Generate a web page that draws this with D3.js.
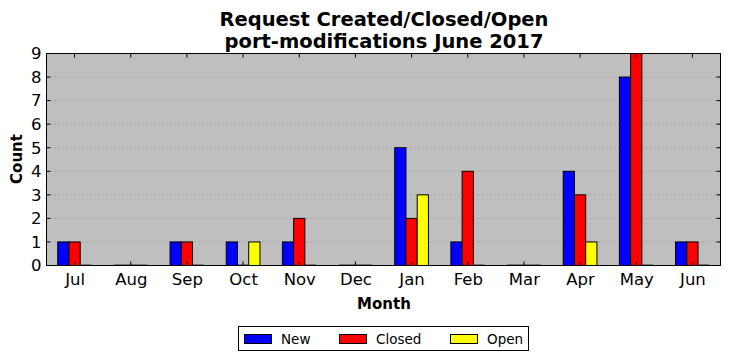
<!DOCTYPE html>
<html><head><meta charset="utf-8">
<script src="https://cdn.jsdelivr.net/npm/d3@7"></script>
<style>body{margin:0;background:#fff;} svg{display:block;font-family:"DejaVu Sans",sans-serif;}</style>
</head><body>
<svg id="c" width="731" height="361"></svg>
<script>
const months = ["Jul","Aug","Sep","Oct","Nov","Dec","Jan","Feb","Mar","Apr","May","Jun"];
const newVals = [1,0,1,1,1,0,5,1,0,4,8,1];
const closedVals = [1,0,1,0,2,0,2,4,0,3,9,1];
const openVals = [0,0,0,1,0,0,3,0,0,1,0,0];
const yTicks = [0,1,2,3,4,5,6,7,8,9];
const seriesNames = ["New","Closed","Open"];
const seriesColors = ["#0000ff","#ff0000","#ffff00"];
const seriesData = [newVals, closedVals, openVals];

const svg = d3.select("#c");
const L = 46.5, R = 720.5, T = 53.5, B = 265.5;
const x = d3.scaleLinear().domain([-0.5, 11.5]).range([L, R]);
const y = d3.scaleLinear().domain([0, 9]).range([B, T]);
const bw = 0.2;

svg.append("rect").attr("x", L).attr("y", T).attr("width", R-L).attr("height", B-T).attr("fill", "#bfbfbf");

svg.append("g").selectAll("line").data(yTicks.slice(1, -1)).join("line")
  .attr("x1", L).attr("x2", R).attr("y1", d => y(d)).attr("y2", d => y(d))
  .attr("stroke", "#8c8c8c").attr("stroke-width", 0.8).attr("stroke-dasharray", "1,3");

seriesData.forEach((vals, s) => {
  const g = svg.append("g");
  g.selectAll("rect").data(vals).join("rect")
    .attr("x", (d, i) => x(i + (s - 1) * bw - bw / 2))
    .attr("width", x(bw) - x(0))
    .attr("y", d => y(d))
    .attr("height", d => y(0) - y(d))
    .attr("fill", seriesColors[s]).attr("stroke", "#000").attr("stroke-width", 1);
  g.selectAll("line").data(vals.map((d, i) => ({d, i})).filter(o => o.d === 0)).join("line")
    .attr("x1", o => x(o.i + (s - 1) * bw - bw / 2)).attr("x2", o => x(o.i + (s - 1) * bw + bw / 2))
    .attr("y1", y(0) - 0.5).attr("y2", y(0) - 0.5).attr("stroke", "#333").attr("stroke-width", 1);
});

svg.append("rect").attr("x", L).attr("y", T).attr("width", R-L).attr("height", B-T)
  .attr("fill", "none").attr("stroke", "#000").attr("stroke-width", 1);

const xt = svg.append("g");
months.forEach((m, i) => {
  xt.append("line").attr("x1", x(i)).attr("x2", x(i)).attr("y1", B).attr("y2", B - 4).attr("stroke", "#000");
  xt.append("line").attr("x1", x(i)).attr("x2", x(i)).attr("y1", T).attr("y2", T + 4).attr("stroke", "#000");
});
const xAxis = svg.append("g").attr("transform", `translate(0,${B})`)
  .call(d3.axisBottom(x).tickValues(d3.range(12)).tickFormat(i => months[i]).tickSize(0).tickPadding(8));
xAxis.select(".domain").remove();
xAxis.selectAll("text").attr("font-size", 16.5).attr("fill", "#000").attr("font-family", "DejaVu Sans");

const yAxis = svg.append("g").attr("transform", `translate(${L},0)`)
  .call(d3.axisLeft(y).tickValues(yTicks).tickFormat(d3.format("d")).tickSize(0).tickPadding(5));
yAxis.select(".domain").remove();
yAxis.selectAll("text").attr("font-size", 16.5).attr("fill", "#000").attr("font-family", "DejaVu Sans");

yTicks.forEach(v => {
  svg.append("line").attr("x1", L).attr("x2", L + 4).attr("y1", y(v)).attr("y2", y(v)).attr("stroke", "#000");
  svg.append("line").attr("x1", R).attr("x2", R - 4).attr("y1", y(v)).attr("y2", y(v)).attr("stroke", "#000");
});

svg.append("text").attr("x", 384).attr("y", 25.5).attr("text-anchor", "middle")
  .attr("font-size", 19.5).attr("font-weight", "bold").text("Request Created/Closed/Open");
svg.append("text").attr("x", 384).attr("y", 47.5).attr("text-anchor", "middle")
  .attr("font-size", 19.5).attr("font-weight", "bold").text("port-modifications June 2017");
svg.append("text").attr("x", 384).attr("y", 309).attr("text-anchor", "middle")
  .attr("font-size", 15).attr("font-weight", "bold").text("Month");
svg.append("text").attr("transform", "translate(22,159) rotate(-90)").attr("text-anchor", "middle")
  .attr("font-size", 15).attr("font-weight", "bold").text("Count");

const lg = svg.append("g");
lg.append("rect").attr("x", 238.5).attr("y", 326.5).attr("width", 290).attr("height", 24)
  .attr("fill", "#fff").attr("stroke", "#000").attr("stroke-width", 1);
const lx = [244, 339, 450];
seriesNames.forEach((n, s) => {
  lg.append("rect").attr("x", lx[s] + 0.5).attr("y", 334.5).attr("width", 27).attr("height", 9)
    .attr("fill", seriesColors[s]).attr("stroke", "#000");
  lg.append("text").attr("x", lx[s] + 37).attr("y", 343.5).attr("font-size", 13.5).text(n);
});
</script>
</body></html>
